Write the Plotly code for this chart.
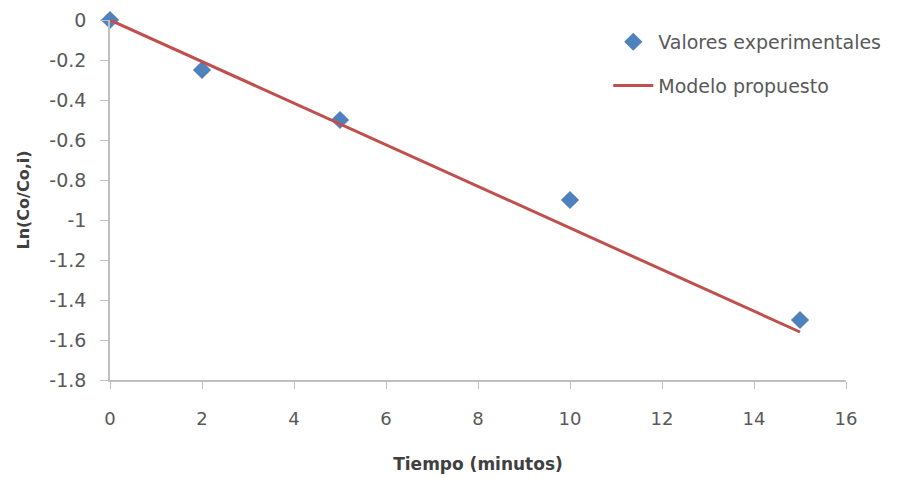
import plotly.graph_objects as go

# Data
tiempo_exp = [0, 2, 5, 10, 15]
ln_exp = [0, -0.25, -0.5, -0.9, -1.5]
tiempo_mod = [0, 15]
ln_mod = [0, -1.56]

x_ticks = [0, 2, 4, 6, 8, 10, 12, 14, 16]
y_ticks = [0, -0.2, -0.4, -0.6, -0.8, -1, -1.2, -1.4, -1.6, -1.8]
y_tick_text = ["0", "-0.2", "-0.4", "-0.6", "-0.8", "-1", "-1.2", "-1.4", "-1.6", "-1.8"]

FONT = "DejaVu Sans, sans-serif"
GRAY = "#595959"
AXIS = "#BFBFBF"

fig = go.Figure()
fig.add_trace(go.Scatter(
    x=tiempo_exp, y=ln_exp, mode="markers", name="Valores experimentales",
    marker=dict(symbol="diamond", size=14, color="#4F81BD"),
    legendgroup="a", legendrank=1, cliponaxis=False,
))
fig.add_trace(go.Scatter(
    x=tiempo_mod, y=ln_mod, mode="lines", name="Modelo propuesto",
    line=dict(color="#C0504D", width=3), legendgroup="b", legendrank=2,
    cliponaxis=False,
))

fig.update_layout(
    width=911, height=478,
    margin=dict(l=110, r=65, t=20, b=98),
    paper_bgcolor="white", plot_bgcolor="white",
    font=dict(family=FONT, color=GRAY, size=16),
    showlegend=True,
    legend=dict(
        x=0.677, y=0.992, xanchor="left", yanchor="top",
        font=dict(size=19, color=GRAY, family=FONT),
        bgcolor="rgba(0,0,0,0)", tracegroupgap=16,
        traceorder="grouped",
        itemwidth=40,
    ),
    xaxis=dict(
        range=[0, 16], tickvals=x_ticks, showgrid=False, zeroline=False,
        showline=True, linecolor=AXIS, linewidth=1.5, automargin=False,
        ticks="outside", ticklen=7, tickcolor=AXIS,
        tickfont=dict(size=18, color=GRAY), ticklabelstandoff=15,
        title=dict(text="<b>Tiempo (minutos)</b>", font=dict(size=17, color="#404040"), standoff=30),
    ),
    yaxis=dict(
        range=[-1.8, 0], tickvals=y_ticks, ticktext=y_tick_text, showgrid=False, zeroline=False,
        showline=True, linecolor=AXIS, linewidth=1.5, automargin=False,
        ticks="outside", ticklen=8, tickcolor=AXIS,
        tickfont=dict(size=19, color=GRAY), ticklabelstandoff=10,
        title=dict(text="<b>Ln(Co/Co,i)</b>", font=dict(size=16, color="#404040"), standoff=16),
    ),
)

fig.write_html("out.html")
